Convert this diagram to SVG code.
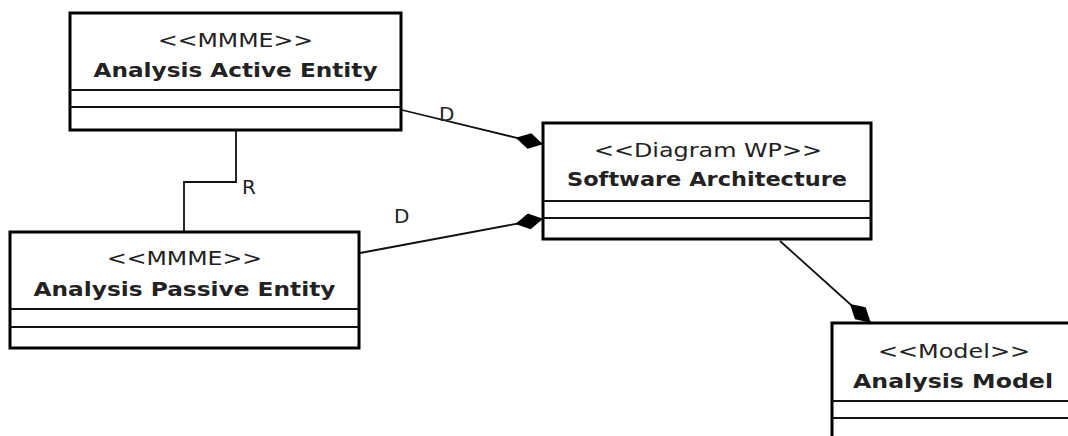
<svg xmlns="http://www.w3.org/2000/svg" width="1068" height="436" viewBox="0 0 1068 436">
<style>
.box{fill:#fff;stroke:#000;stroke-width:3}
.sep{stroke:#111;stroke-width:2}
.st{font-family:"DejaVu Sans","Liberation Sans",sans-serif;font-size:20px;fill:#222;text-anchor:middle}
.ti{font-family:"DejaVu Sans","Liberation Sans",sans-serif;font-size:20px;font-weight:bold;fill:#222;text-anchor:middle}
.con{fill:none;stroke:#111;stroke-width:1.8}
.lbl{font-family:"DejaVu Sans","Liberation Sans",sans-serif;font-size:20px;fill:#222}
</style>
<defs>
<marker id="dia" viewBox="0 0 28 16" refX="27" refY="8" markerWidth="28" markerHeight="16" markerUnits="userSpaceOnUse" orient="auto">
<path d="M0,8 L14,0 L28,8 L14,16 Z" fill="#000"/>
</marker>
</defs>
<rect width="1068" height="436" fill="#fff"/>
<g id="connectors">
<polyline class="con" points="236,131 236,182 184,182 184,231"/>
<text class="lbl" x="242" y="194">R</text>
<line class="con" x1="402" y1="110" x2="542" y2="144" marker-end="url(#dia)"/>
<text class="lbl" x="439" y="121">D</text>
<line class="con" x1="360" y1="253" x2="542" y2="219" marker-end="url(#dia)"/>
<text class="lbl" x="394" y="223">D</text>
<line class="con" x1="780" y1="241" x2="870" y2="322" marker-end="url(#dia)"/>
</g>
<g id="analysis-active-entity">
<rect class="box" x="70" y="13" width="331" height="117"/>
<line class="sep" x1="70" y1="90" x2="401" y2="90"/>
<line class="sep" x1="70" y1="107" x2="401" y2="107"/>
<text class="st" x="235.5" y="47" textLength="155" lengthAdjust="spacingAndGlyphs">&lt;&lt;MMME&gt;&gt;</text>
<text class="ti" x="235.5" y="77" textLength="284" lengthAdjust="spacingAndGlyphs">Analysis Active Entity</text>
</g>
<g id="analysis-passive-entity">
<rect class="box" x="10" y="232" width="349" height="116"/>
<line class="sep" x1="10" y1="309" x2="359" y2="309"/>
<line class="sep" x1="10" y1="327" x2="359" y2="327"/>
<text class="st" x="184.5" y="265" textLength="155" lengthAdjust="spacingAndGlyphs">&lt;&lt;MMME&gt;&gt;</text>
<text class="ti" x="184.5" y="296" textLength="302" lengthAdjust="spacingAndGlyphs">Analysis Passive Entity</text>
</g>
<g id="software-architecture">
<rect class="box" x="543" y="123" width="328" height="116"/>
<line class="sep" x1="543" y1="201" x2="871" y2="201"/>
<line class="sep" x1="543" y1="218" x2="871" y2="218"/>
<text class="st" x="708" y="157" textLength="228" lengthAdjust="spacingAndGlyphs">&lt;&lt;Diagram WP&gt;&gt;</text>
<text class="ti" x="707" y="186" textLength="280" lengthAdjust="spacingAndGlyphs">Software Architecture</text>
</g>
<g id="analysis-model">
<rect class="box" x="832" y="323" width="250" height="130"/>
<line class="sep" x1="832" y1="401" x2="1082" y2="401"/>
<line class="sep" x1="832" y1="418" x2="1082" y2="418"/>
<text class="st" x="954" y="358" textLength="152" lengthAdjust="spacingAndGlyphs">&lt;&lt;Model&gt;&gt;</text>
<text class="ti" x="953" y="388" textLength="200" lengthAdjust="spacingAndGlyphs">Analysis Model</text>
</g>
</svg>
